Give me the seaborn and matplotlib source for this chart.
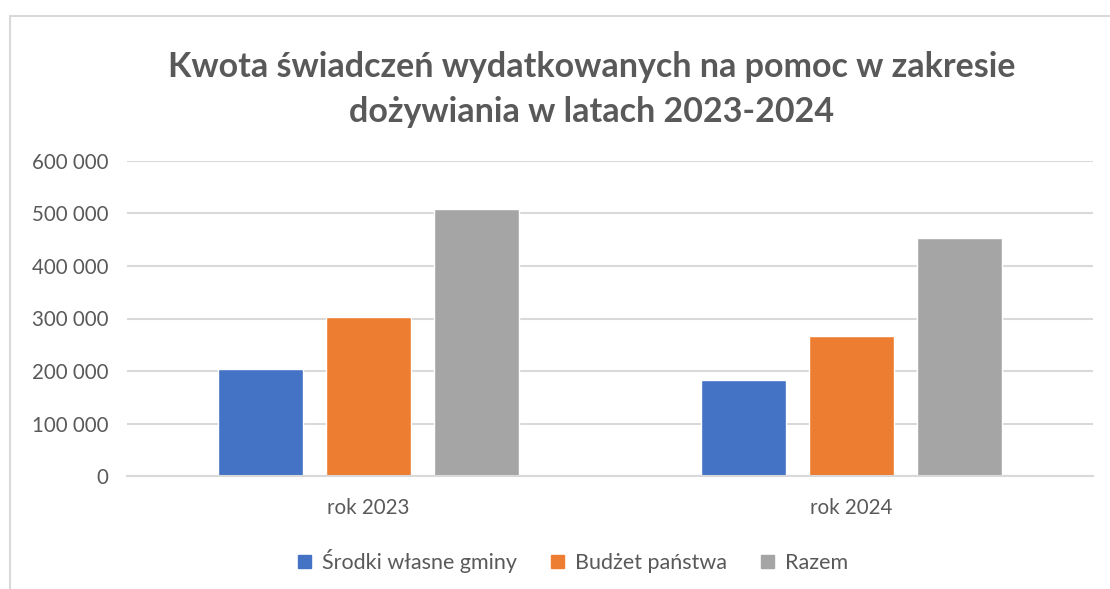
import matplotlib.pyplot as plt
import matplotlib.ticker as ticker
from matplotlib.lines import Line2D
import seaborn as sns
import pandas as pd

# dane
lata = ['rok 2023', 'rok 2024']
serie = ['Środki własne gminy', 'Budżet państwa', 'Razem']
srodki_gminy = [204000, 182000]
budzet_panstwa = [302000, 267000]
razem = [509000, 453000]
kolory = ['#4472C4', '#ED7D31', '#A5A5A5']
tytul = 'Kwota świadczeń wydatkowanych na pomoc w zakresie\ndożywiania w latach 2023-2024'

sns.set_theme(style='white')
plt.rcParams['font.family'] = ['Lato', 'DejaVu Sans']

df = pd.DataFrame({
    'rok': lata * 3,
    'seria': [s for s in serie for _ in lata],
    'kwota': srodki_gminy + budzet_panstwa + razem,
})

W, H = 1110, 589
fig = plt.figure(figsize=(W / 100, H / 100), dpi=100)
ax = fig.add_axes([127 / W, 1 - 476 / H, (1093 - 127) / W, (476 - 161) / H])

sns.barplot(data=df, x='rok', y='kwota', hue='seria', hue_order=serie,
            palette=kolory, width=0.67, gap=0.21, saturation=1,
            ax=ax, legend=False)

ax.set_xlim(-0.5, 1.5)
ax.set_ylim(0, 600000)
ax.yaxis.set_major_locator(ticker.MultipleLocator(100000))
ax.yaxis.set_major_formatter(ticker.FuncFormatter(
    lambda v, p: f'{int(v):,}'.replace(',', ' ')))
ax.grid(axis='y', color='#D9D9D9', linewidth=1.5)
ax.set_axisbelow(True)
for s in ['top', 'right', 'left']:
    ax.spines[s].set_visible(False)
ax.spines['bottom'].set_color('#D9D9D9')
ax.spines['bottom'].set_linewidth(1.5)
ax.tick_params(axis='both', length=0, labelsize=14.8, labelcolor='#595959')
ax.tick_params(axis='y', pad=13.5)
ax.tick_params(axis='x', pad=16)
ax.set_xlabel(None)
ax.set_ylabel(None)

fig.text(0.533, 1 - 89.5 / H, tytul, ha='center', va='center', fontsize=24.5,
         fontweight='bold', color='#595959', linespacing=1.5)

uchwyty = [plt.Rectangle((0, 0), 1, 1, color=c) for c in kolory]
fig.legend(uchwyty, serie, loc='center', bbox_to_anchor=(573 / W, 1 - 561 / H),
           ncol=3, frameon=False, fontsize=15.5, labelcolor='#595959',
           handlelength=0.6, handleheight=0.6, handletextpad=0.5,
           columnspacing=1.6)

# ramka wykresu
fig.add_artist(Line2D([10 / W, 10 / W], [0, 1 - 16 / H], transform=fig.transFigure,
                      color='#D9D9D9', linewidth=1.5))
fig.add_artist(Line2D([10 / W, 1], [1 - 16 / H, 1 - 16 / H], transform=fig.transFigure,
                      color='#D9D9D9', linewidth=1.5))

fig.savefig('out.png', dpi=100, facecolor='white')
